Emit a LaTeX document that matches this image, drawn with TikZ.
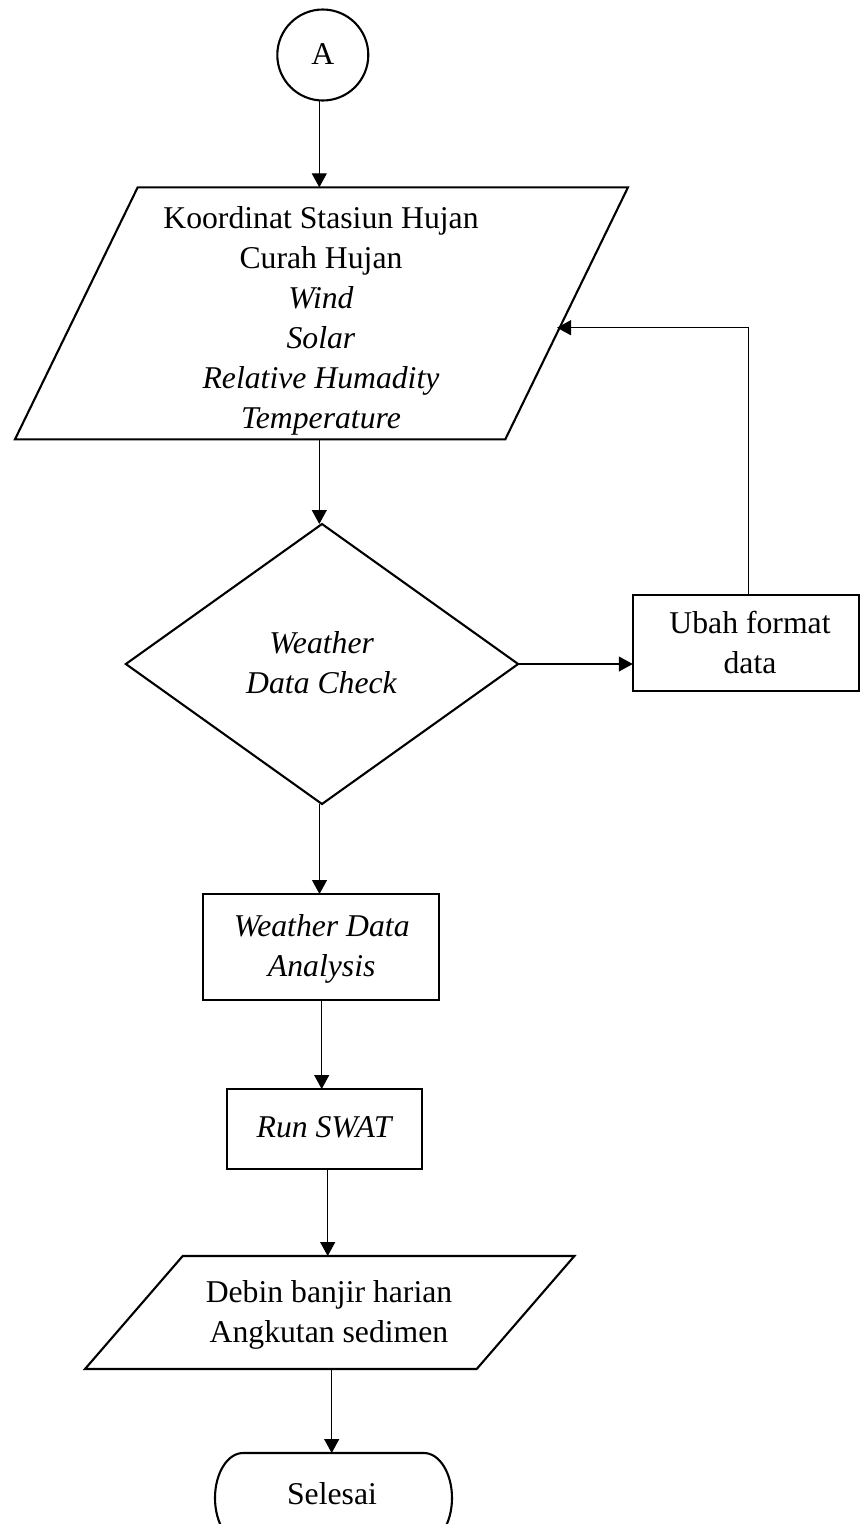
\documentclass[tikz,border=0pt]{standalone}
\usepackage{fontspec}
\setmainfont{Liberation Serif}
\usetikzlibrary{shapes.geometric,arrows.meta,calc}
\tikzset{
  shp/.style={draw, line width=2.1pt, inner sep=0pt, outer sep=0pt},
  ghost/.style={inner sep=0pt, outer sep=0pt},
  txt/.style={align=center, inner sep=0pt, outer sep=0pt, font=\fontsize{31.7pt}{40pt}\selectfont},
  conn/.style={line width=1.2pt, -{Triangle[length=14pt,width=15pt]}},
}
\begin{document}
\begin{tikzpicture}[x=1pt,y=-1pt]
\useasboundingbox (0,0) rectangle (860,1524);
\clip (0,0) rectangle (860,1524);
% connector A
\node[shp, circle, minimum size=91pt] (A) at (322.8,55) {};
\node[txt] (tA) at (322.8,54.5) {A};
% input parallelogram 1
\node[ghost, minimum width=490.3pt, minimum height=252pt] (in1) at (321.5,313.3) {};
\draw[line width=2.1pt, line join=miter]
  ([xshift=61.35pt]in1.north west) -- ([xshift=61.35pt]in1.north east)
  -- ([xshift=-61.35pt]in1.south east) -- ([xshift=-61.35pt]in1.south west) -- cycle;
\node[txt] (tin1) at (321,320.6) {Koordinat Stasiun Hujan\\Curah Hujan\\\textit{Wind}\\\textit{Solar}\\\textit{Relative Humadity}\\\textit{Temperature}};
% decision
\node[shp, diamond, minimum width=392.3pt, minimum height=280pt] (dia) at (322,664) {};
\node[txt] (tdia) at (321.7,662.8) {\textit{Weather}\\\textit{Data Check}};
% ubah format
\node[shp, rectangle, minimum width=226.3pt, minimum height=96pt] (ubah) at (745.9,642.7) {};
\node[txt] (tubah) at (750,642.6) {Ubah format\\data};
% weather data analysis
\node[shp, rectangle, minimum width=236pt, minimum height=106pt] (wda) at (320.7,947) {};
\node[txt] (twda) at (321.7,949.3) {\textit{Weather Data}\\\textit{Analysis}};
% run swat
\node[shp, rectangle, minimum width=194.7pt, minimum height=80pt] (run) at (324.7,1129) {};
\node[txt] (trun) at (325,1127.5) {\textit{Run SWAT}};
% output parallelogram
\node[ghost, minimum width=391.7pt, minimum height=113pt] (out) at (329.7,1312.5) {};
\draw[line width=2.1pt, line join=miter]
  ([xshift=48.85pt]out.north west) -- ([xshift=48.85pt]out.north east)
  -- ([xshift=-48.85pt]out.south east) -- ([xshift=-48.85pt]out.south west) -- cycle;
\node[txt] (tout) at (329,1314.8) {Debin banjir harian\\Angkutan sedimen};
% terminal
\node[ghost, minimum width=237pt, minimum height=90pt] (fin) at (333.5,1498) {};
\draw[line width=2.1pt]
  ([xshift=28pt]fin.north west) -- ([xshift=-28pt]fin.north east)
  arc[start angle=90, end angle=-90, x radius=28pt, y radius=45pt]
  -- ([xshift=28pt]fin.south west)
  arc[start angle=270, end angle=90, x radius=28pt, y radius=45pt] -- cycle;
\node[txt] (tfin) at (332,1493.2) {Selesai};
% connectors
\coordinate (fb) at (557,327.7);
\draw[conn] ([xshift=-3.5pt]A.south) -- ([xshift=-3.5pt]A.south |- in1.north);
\draw[conn] ([xshift=-2.2pt]in1.south) -- ([xshift=-2.2pt]in1.south |- dia.north);
\draw[conn] ([xshift=-2.5pt]dia.south) -- ([xshift=-2.5pt]dia.south |- wda.north);
\draw[conn] ([xshift=1pt]wda.south) -- ([xshift=1pt]wda.south |- run.north);
\draw[conn] ([xshift=3pt]run.south) -- ([xshift=3pt]run.south |- out.north);
\draw[conn] ([xshift=2pt]out.south) -- ([xshift=2pt]out.south |- fin.north);
\draw[conn] (dia.east) -- (dia.east -| ubah.west);
\draw[conn] ([xshift=2.8pt]ubah.north) |- (fb);
\end{tikzpicture}
\end{document}
